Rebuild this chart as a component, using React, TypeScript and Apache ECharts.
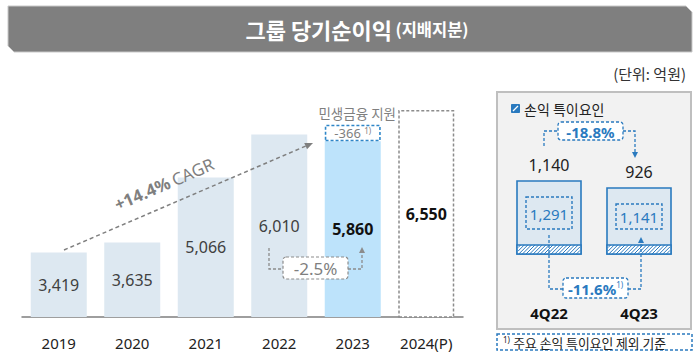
import React, { useEffect, useRef } from 'react';
import * as echarts from 'echarts';

// ---- data ----
const years = ['2019', '2020', '2021', '2022', '2023', '2024(P)'];
const netIncome = [3419, 3635, 5066, 6010, 5860, 6550];
const reliefSupport: (number | string)[] = ['-', '-', '-', '-', 366, '-'];
const quarters = ['4Q22', '4Q23'];
const quarterIncome = [1140, 926];
const quarterExSpecial = [1291, 1141];
const cagrLabel = '+14.4%';
const yoyLabel = '-2.5%';
const qoqLabel = '-18.8%';
const exSpecialLabel = '-11.6%';

// axis ranges
const mainMin = 2000;
const mainMax = 8000;
const qMin = -1100;
const qMax = 1140;

const F = '"Noto Sans", "Noto Sans CJK KR", sans-serif';
const K = '"Noto Sans CJK KR", "Noto Sans", sans-serif';
const BLUE = '#2a7abf';
const GRAY = '#7f7f7f';

const fmt = (v: number) => v.toLocaleString('en-US');

function arrowHead(tip: [number, number], from: [number, number], color: string, len = 7, half = 3.2) {
  const dx = tip[0] - from[0];
  const dy = tip[1] - from[1];
  const d = Math.sqrt(dx * dx + dy * dy);
  const ux = dx / d, uy = dy / d;
  const bx = tip[0] - ux * len, by = tip[1] - uy * len;
  const px = -uy, py = ux;
  return {
    type: 'polygon',
    z: 20,
    shape: { points: [tip, [bx + px * half, by + py * half], [bx - px * half, by - py * half]] },
    style: { fill: color },
  };
}

function dashedPolyline(points: number[][], color: string, lw = 1.3) {
  return {
    type: 'polyline',
    z: 20,
    shape: { points },
    style: { stroke: color, lineWidth: lw, lineDash: [3, 2], fill: 'none' },
  };
}

function buildOption(): any {
  const graphic: any[] = [
    // title bar
    {
      type: 'polygon',
      z: 1,
      shape: { points: [[8, 6], [686, 6], [692, 12], [692, 52], [14, 52], [8, 46]] },
      style: { fill: '#7f7f7f', stroke: '#c9c9c9', lineWidth: 1 },
    },
    {
      type: 'text',
      z: 2,
      x: 357,
      y: 29,
      style: {
        text: '{a|그룹 당기순이익} {b|(지배지분)}',
        align: 'center',
        verticalAlign: 'middle',
        fill: '#fff',
        rich: {
          a: { fontSize: 22, fontWeight: 'bold', fill: '#fff', fontFamily: K },
          b: { fontSize: 16.5, fontWeight: 'bold', fill: '#fff', fontFamily: K },
        },
      },
    },
    {
      type: 'text',
      z: 2,
      x: 686,
      y: 73,
      style: { text: '(단위: 억원)', align: 'right', verticalAlign: 'middle', fontSize: 15, fill: '#333', fontFamily: K },
    },
    // CAGR arrow
    {
      type: 'line',
      z: 20,
      shape: { x1: 64, y1: 250, x2: 307, y2: 145.5 },
      style: { stroke: GRAY, lineWidth: 1.5, lineDash: [4, 3] },
    },
    arrowHead([313, 143], [64, 250], GRAY, 8, 3.5),
    {
      type: 'text',
      z: 20,
      x: 164,
      y: 184,
      rotation: (23.3 * Math.PI) / 180,
      style: {
        text: '{b|' + cagrLabel + '} {n|CAGR}',
        align: 'center',
        verticalAlign: 'middle',
        rich: {
          b: { fontSize: 17, fontWeight: 'bold', fill: GRAY, fontFamily: F },
          n: { fontSize: 17, fill: GRAY, fontFamily: F },
        },
      },
    },
    {
      type: 'text',
      z: 20,
      x: 396,
      y: 113,
      style: { text: '민생금융 지원', align: 'right', verticalAlign: 'middle', fontSize: 13.5, fill: GRAY, fontFamily: K },
    },
    // -2.5% annotation
    dashedPolyline([[269, 248], [269, 269], [283, 269]], '#8c8c8c'),
    dashedPolyline([[348, 269], [362, 269], [362, 253]], '#8c8c8c'),
    arrowHead([362, 247], [362, 269], '#8c8c8c', 6, 3),
    {
      type: 'rect',
      z: 20,
      shape: { x: 283, y: 257, width: 65, height: 22, r: 3 },
      style: { fill: '#fff', stroke: '#8c8c8c', lineWidth: 1.2, lineDash: [3, 2] },
    },
    {
      type: 'text',
      z: 21,
      x: 315.5,
      y: 268.5,
      style: { text: yoyLabel, align: 'center', verticalAlign: 'middle', fontSize: 17, fill: GRAY, fontFamily: F },
    },
    // right panel
    {
      type: 'rect',
      z: 0,
      shape: { x: 497, y: 92, width: 194, height: 237 },
      style: { fill: '#f2f2f2', stroke: '#bfbfbf', lineWidth: 2 },
    },
    {
      type: 'rect',
      z: 20,
      shape: { x: 511.5, y: 104.5, width: 8, height: 8 },
      style: { fill: BLUE, stroke: BLUE, lineWidth: 1 },
    },
    {
      type: 'line',
      z: 21,
      shape: { x1: 513, y1: 111, x2: 518, y2: 106 },
      style: { stroke: '#fff', lineWidth: 1.2 },
    },
    {
      type: 'text',
      z: 20,
      x: 524,
      y: 109,
      style: { text: '손익 특이요인', align: 'left', verticalAlign: 'middle', fontSize: 14, fill: '#222', fontFamily: K },
    },
    // -18.8%
    dashedPolyline([[544, 146], [544, 131], [558, 131]], BLUE),
    dashedPolyline([[623, 131], [635, 131], [635, 152]], BLUE),
    arrowHead([635, 158], [635, 131], BLUE, 6, 3),
    {
      type: 'rect',
      z: 20,
      shape: { x: 558, y: 122, width: 65, height: 18, r: 3 },
      style: { fill: '#fff', stroke: BLUE, lineWidth: 1.3, lineDash: [3, 2] },
    },
    {
      type: 'text',
      z: 21,
      x: 590.5,
      y: 131.5,
      style: { text: qoqLabel, align: 'center', verticalAlign: 'middle', fontSize: 15, fontWeight: 'bold', fill: BLUE, fontFamily: F },
    },
    // -11.6%
    dashedPolyline([[549, 235], [549, 289], [563, 289]], BLUE),
    dashedPolyline([[628, 289], [641, 289], [641, 243]], BLUE),
    arrowHead([641, 237], [641, 289], BLUE, 6, 3),
    {
      type: 'rect',
      z: 20,
      shape: { x: 563, y: 278, width: 65, height: 20, r: 3 },
      style: { fill: '#fff', stroke: BLUE, lineWidth: 1.3, lineDash: [3, 2] },
    },
    {
      type: 'text',
      z: 21,
      x: 595.5,
      y: 288.5,
      style: {
        text: '{b|' + exSpecialLabel + '}{s|1)}',
        align: 'center',
        verticalAlign: 'middle',
        rich: {
          b: { fontSize: 15, fontWeight: 'bold', fill: BLUE, fontFamily: F },
          s: { fontSize: 8, fill: BLUE, fontFamily: F, verticalAlign: 'top', padding: [0, 0, 8, 0] },
        },
      },
    },
    // footnote
    {
      type: 'rect',
      z: 20,
      shape: { x: 497, y: 334, width: 195, height: 16 },
      style: { fill: '#fff', stroke: BLUE, lineWidth: 1.5, lineDash: [3, 2] },
    },
    {
      type: 'text',
      z: 21,
      x: 503,
      y: 342.5,
      style: {
        text: '{s|1)} {t|주요 손익 특이요인 제외 기준}',
        align: 'left',
        verticalAlign: 'middle',
        rich: {
          s: { fontSize: 8, fill: '#222', fontFamily: F, padding: [0, 0, 7, 0] },
          t: { fontSize: 12.8, fill: '#222', fontFamily: K },
        },
      },
    },
  ];

  const renderQuarter = (params: any, api: any) => {
    const idx = api.value(0);
    const v = api.value(1);
    const inner = api.value(2);
    const top = api.coord([idx, v]);
    const base = api.coord([idx, qMin]);
    const w = 64;
    const L = top[0] - w / 2;
    const R = top[0] + w / 2;
    const T = top[1];
    const B = base[1];
    const sh = 9;
    const S = B - sh;
    const children: any[] = [
      {
        type: 'rect',
        shape: { x: L, y: T, width: w, height: B - T },
        style: { fill: '#dde8f1', stroke: BLUE, lineWidth: 1.6 },
      },
      {
        type: 'rect',
        shape: { x: L, y: S, width: w, height: sh },
        style: { fill: '#fff', stroke: BLUE, lineWidth: 1.6 },
      },
    ];
    const step = 3.6;
    for (let x = L - sh; x < R; x += step) {
      const t0 = Math.max(0, L + 1 - x);
      const t1 = Math.min(sh, R - 1 - x);
      if (t1 > t0) {
        children.push({
          type: 'line',
          shape: { x1: x + t0, y1: B - t0, x2: x + t1, y2: B - t1 },
          style: { stroke: BLUE, lineWidth: 1 },
        });
      }
    }
    const iT = T + 16;
    const iB = S - 16;
    children.push({
      type: 'rect',
      shape: { x: L + 9, y: iT, width: w - 18, height: iB - iT },
      style: { fill: 'none', stroke: BLUE, lineWidth: 1.4, lineDash: [3, 2] },
    });
    children.push({
      type: 'text',
      style: {
        text: fmt(inner),
        x: top[0],
        y: (iT + iB) / 2 + 1,
        align: 'center',
        verticalAlign: 'middle',
        fontSize: 15,
        fill: BLUE,
        fontFamily: F,
      },
    });
    children.push({
      type: 'text',
      style: {
        text: fmt(v),
        x: top[0],
        y: T - 16,
        align: 'center',
        verticalAlign: 'middle',
        fontSize: 16,
        fill: '#222',
        fontFamily: F,
      },
    });
    return { type: 'group', children };
  };

  return {
    animation: false,
    backgroundColor: '#fff',
    grid: [
      { left: 22, top: 44, width: 441, height: 273 },
      { left: 504, top: 181, width: 180, height: 73 },
    ],
    xAxis: [
      {
        type: 'category',
        gridIndex: 0,
        data: years,
        axisLine: { lineStyle: { color: GRAY, width: 1.5 } },
        axisTick: { inside: true, length: 5, lineStyle: { color: GRAY, width: 1.5 } },
        axisLabel: { margin: 18, fontSize: 15, color: '#222', fontFamily: F },
      },
      {
        type: 'category',
        gridIndex: 1,
        data: quarters,
        axisLine: { show: false },
        axisTick: { show: false },
        axisLabel: { margin: 51, fontSize: 15, fontWeight: 'bold', color: '#111', fontFamily: F },
      },
    ],
    yAxis: [
      { type: 'value', gridIndex: 0, min: mainMin, max: mainMax, show: false },
      { type: 'value', gridIndex: 1, min: qMin, max: qMax, show: false },
    ],
    series: [
      {
        type: 'bar',
        name: '당기순이익',
        stack: 'total',
        barWidth: 56,
        xAxisIndex: 0,
        yAxisIndex: 0,
        data: netIncome.map((v, i) => ({
          value: v,
          itemStyle:
            i === 4
              ? { color: '#bde3fb' }
              : i === 5
              ? { color: '#fff', borderColor: '#8c8c8c', borderType: [3, 2], borderWidth: 1.5 }
              : { color: '#dde8f1' },
          label: i >= 4 ? { fontWeight: 'bold', color: '#111' } : {},
        })),
        label: {
          show: true,
          position: 'inside',
          formatter: (p: any) => fmt(p.value),
          fontSize: 16,
          color: '#404040',
          fontFamily: F,
        },
      },
      {
        type: 'bar',
        name: '민생금융 지원',
        stack: 'total',
        barWidth: 56,
        xAxisIndex: 0,
        yAxisIndex: 0,
        data: reliefSupport,
        itemStyle: { color: '#fff', borderColor: '#2e86c8', borderType: [3, 2], borderWidth: 1.6 },
        label: {
          show: true,
          position: 'inside',
          formatter: (p: any) => '{v|-' + p.value + '} {s|1)}',
          rich: {
            v: { fontSize: 13, color: GRAY, fontFamily: F },
            s: { fontSize: 8, color: GRAY, fontFamily: F, padding: [0, 0, 6, 0] },
          },
        },
      },
      {
        type: 'custom',
        name: '분기 당기순이익',
        xAxisIndex: 1,
        yAxisIndex: 1,
        clip: false,
        data: quarters.map((q, i) => [i, quarterIncome[i], quarterExSpecial[i]]),
        renderItem: renderQuarter,
      },
    ],
    graphic,
  };
}

export default function App() {
  const ref = useRef<HTMLDivElement>(null);
  useEffect(() => {
    const chart = echarts.init(ref.current!, null, { renderer: 'svg' });
    chart.setOption(buildOption());
    return () => chart.dispose();
  }, []);
  return (
    <div
      ref={ref}
      style={{ position: 'fixed', left: 0, top: 0, width: 700, height: 361, background: '#fff' }}
    />
  );
}
